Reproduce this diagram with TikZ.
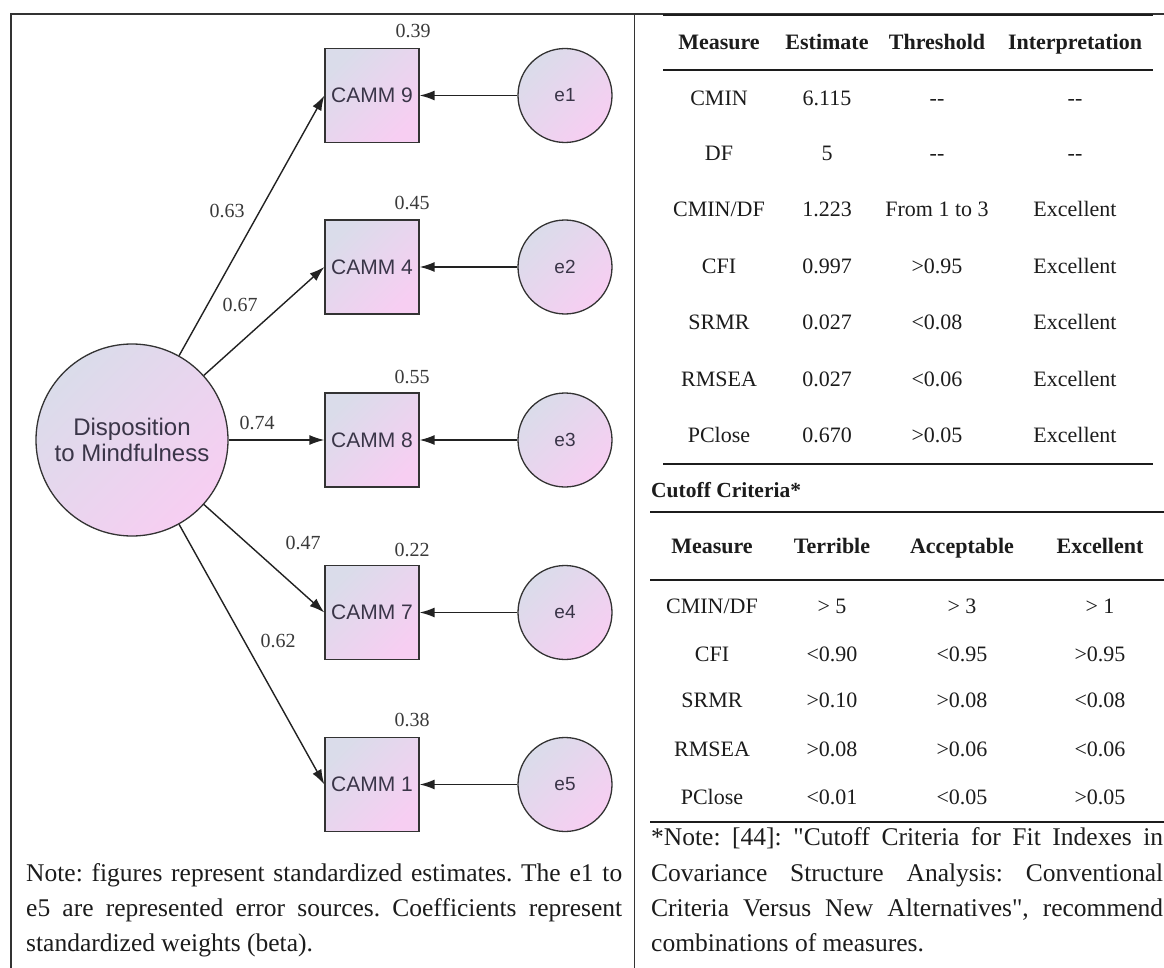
\documentclass[tikz,border=0pt]{standalone}
\usepackage{fontspec}
\setmainfont{Liberation Serif}
\newfontfamily\sansf{Liberation Sans}
\newfontfamily\qtf{Liberation Serif}[Ligatures=TeXOff]
\usetikzlibrary{arrows.meta}
\definecolor{cTL}{HTML}{DADCEA}
\definecolor{cBR}{HTML}{F7CEF2}
\definecolor{linec}{HTML}{333333}
\definecolor{arrc}{HTML}{222222}
\definecolor{txtd}{HTML}{3A3548}
\definecolor{numc}{HTML}{3A3A3A}
\definecolor{tabc}{HTML}{1C1C1C}
\newcommand{\sqq}{{\qtf\symbol{34}}}
\tikzset{
  sembox/.style={draw=linec, line width=1.3pt, top color=cTL, bottom color=cBR, shading angle=45,
    inner sep=0pt, text=txtd, font=\sansf\fontsize{21}{24}\selectfont},
  latentc/.style={sembox, circle, minimum size=192pt, align=center, font=\sansf\fontsize{24}{28}\selectfont},
  obsbox/.style={sembox, rectangle, minimum width=94pt, minimum height=94pt},
  errc/.style={sembox, circle, minimum size=94pt, font=\sansf\fontsize{19}{22}\selectfont},
  numlbl/.style={inner sep=0pt, text=numc, font=\fontsize{20}{22}\selectfont},
  pth/.style={draw=arrc, line width=1.4pt, -{Latex[length=15pt,width=10pt]}},
  tabt/.style={inner sep=0pt, text=tabc, text height=15.5pt, text depth=4.5pt, font=\fontsize{22}{26}\selectfont},
  tabh/.style={tabt, font=\bfseries\fontsize{22}{26}\selectfont},
  notet/.style={inner sep=0pt, text=tabc, anchor=base west, font=\frenchspacing\fontsize{25.5}{28}\selectfont},
  frame/.style={draw=linec, line width=1.4pt},
  rulethick/.style={draw=tabc, line width=2.8pt},
  rulemed/.style={draw=tabc, line width=1.8pt},
}
\begin{document}
\begin{tikzpicture}[x=1pt, y=-1pt]
\useasboundingbox[fill=white] (0,0) rectangle (1164,968);
% frame
\coordinate (fTL) at (11,14);
\coordinate (fBL) at (11,968);
\coordinate (fTR) at (1164,14);
\coordinate (dT) at (634.5,14);
\coordinate (dB) at (634.5,968);
\draw[frame] (fBL) -- (fTL) -- (fTR);
\draw[frame] (dT) -- (dB);

% diagram
\node[latentc] (D) at (132,440) {Disposition\\[-2pt]to Mindfulness};
\node[obsbox] (C9) at (372,95.5) {CAMM 9};
\node[obsbox] (C4) at (372,267) {CAMM 4};
\node[obsbox] (C8) at (372,440) {CAMM 8};
\node[obsbox] (C7) at (372,612.5) {CAMM 7};
\node[obsbox] (C1) at (372,784.5) {CAMM 1};
\node[errc] (e1) at (565,95.5) {e1};
\node[errc] (e2) at (565,267) {e2};
\node[errc] (e3) at (565,440) {e3};
\node[errc] (e4) at (565,612.5) {e4};
\node[errc] (e5) at (565,784.5) {e5};

\draw[pth] (D) -- (C9.west);
\draw[pth] (D) -- (C4.west);
\draw[pth] (D.east) -- (C8.west);
\draw[pth] (D) -- (C7.west);
\draw[pth] (D) -- (C1.west);
\draw[pth] (e1) -- (C9.east);
\draw[pth] (e2) -- (C4.east);
\draw[pth] (e3) -- (C8.east);
\draw[pth] (e4) -- (C7.east);
\draw[pth] (e5) -- (C1.east);

\node[numlbl] (r9) at (413,31) {0.39};
\node[numlbl] (r4) at (412,203) {0.45};
\node[numlbl] (r8) at (412,377) {0.55};
\node[numlbl] (r7) at (412,550) {0.22};
\node[numlbl] (r1) at (412,720) {0.38};
\node[numlbl] (w9) at (227,211) {0.63};
\node[numlbl] (w4) at (240,305) {0.67};
\node[numlbl] (w8) at (257,423) {0.74};
\node[numlbl] (w7) at (303,543) {0.47};
\node[numlbl] (w1) at (278,641) {0.62};

% left note
\node[notet] (nl1) at (26,881) {\makebox[596pt][s]{Note: figures represent standardized estimates. The e1 to}};
\node[notet] (nl2) at (26,916) {\makebox[596pt][s]{e5 are represented error sources. Coefficients represent}};
\node[notet] (nl3) at (26,951) {standardized weights (beta).};

% table 1
\coordinate (t1a) at (663,15);  \coordinate (t1b) at (1153,15);
\coordinate (t1c) at (663,70);  \coordinate (t1d) at (1153,70);
\coordinate (t1e) at (663,464); \coordinate (t1f) at (1153,464);
\draw[rulethick] (t1a) -- (t1b);
\draw[rulemed] (t1c) -- (t1d);
\draw[rulemed] (t1e) -- (t1f);
\node[tabh] (h11) at (719,44) {Measure};
\node[tabh] (h12) at (827,44) {Estimate};
\node[tabh] (h13) at (937,44) {Threshold};
\node[tabh] (h14) at (1075,44) {Interpretation};
\node[tabt] (a1) at (719,100) {CMIN};
\node[tabt] (b1) at (827,100) {6.115};
\node[tabt] (c1) at (937,100) {-{}-};
\node[tabt] (d1) at (1075,100) {-{}-};
\node[tabt] (a2) at (719,155) {DF};
\node[tabt] (b2) at (827,155) {5};
\node[tabt] (c2) at (937,155) {-{}-};
\node[tabt] (d2) at (1075,155) {-{}-};
\node[tabt] (a3) at (719,211) {CMIN/DF};
\node[tabt] (b3) at (827,211) {1.223};
\node[tabt] (c3) at (937,211) {From 1 to 3};
\node[tabt] (d3) at (1075,211) {Excellent};
\node[tabt] (a4) at (719,268) {CFI};
\node[tabt] (b4) at (827,268) {0.997};
\node[tabt] (c4) at (937,268) {>0.95};
\node[tabt] (d4) at (1075,268) {Excellent};
\node[tabt] (a5) at (719,324) {SRMR};
\node[tabt] (b5) at (827,324) {0.027};
\node[tabt] (c5) at (937,324) {<0.08};
\node[tabt] (d5) at (1075,324) {Excellent};
\node[tabt] (a6) at (719,381) {RMSEA};
\node[tabt] (b6) at (827,381) {0.027};
\node[tabt] (c6) at (937,381) {<0.06};
\node[tabt] (d6) at (1075,381) {Excellent};
\node[tabt] (a7) at (719,437) {PClose};
\node[tabt] (b7) at (827,437) {0.670};
\node[tabt] (c7) at (937,437) {>0.05};
\node[tabt] (d7) at (1075,437) {Excellent};

\node[inner sep=0pt, text=tabc, anchor=west, font=\bfseries\fontsize{21.5}{24}\selectfont] (cut) at (651,490) {Cutoff Criteria*};

% table 2
\coordinate (t2a) at (650,512); \coordinate (t2b) at (1164,512);
\coordinate (t2c) at (650,580); \coordinate (t2d) at (1164,580);
\coordinate (t2e) at (650,822); \coordinate (t2f) at (1164,822);
\draw[rulemed] (t2a) -- (t2b);
\draw[rulemed] (t2c) -- (t2d);
\draw[rulemed] (t2e) -- (t2f);
\node[tabh] (h21) at (712,548) {Measure};
\node[tabh] (h22) at (832,548) {Terrible};
\node[tabh] (h23) at (962,548) {Acceptable};
\node[tabh] (h24) at (1100,548) {Excellent};
\node[tabt] (p1) at (712,608) {CMIN/DF};
\node[tabt] (q1) at (832,608) {> 5};
\node[tabt] (s1) at (962,608) {> 3};
\node[tabt] (u1) at (1100,608) {> 1};
\node[tabt] (p2) at (712,656) {CFI};
\node[tabt] (q2) at (832,656) {<0.90};
\node[tabt] (s2) at (962,656) {<0.95};
\node[tabt] (u2) at (1100,656) {>0.95};
\node[tabt] (p3) at (712,702) {SRMR};
\node[tabt] (q3) at (832,702) {>0.10};
\node[tabt] (s3) at (962,702) {>0.08};
\node[tabt] (u3) at (1100,702) {<0.08};
\node[tabt] (p4) at (712,751) {RMSEA};
\node[tabt] (q4) at (832,751) {>0.08};
\node[tabt] (s4) at (962,751) {>0.06};
\node[tabt] (u4) at (1100,751) {<0.06};
\node[tabt] (p5) at (712,799) {PClose};
\node[tabt] (q5) at (832,799) {<0.01};
\node[tabt] (s5) at (962,799) {<0.05};
\node[tabt] (u5) at (1100,799) {>0.05};

% right note
\node[notet] (nr1) at (651,845) {\makebox[512pt][s]{*Note: [44]: \sqq Cutoff Criteria for Fit Indexes in}};
\node[notet] (nr2) at (651,881) {\makebox[512pt][s]{Covariance Structure Analysis: Conventional}};
\node[notet] (nr3) at (651,916) {\makebox[512pt][s]{Criteria Versus New Alternatives\sqq, recommend}};
\node[notet] (nr4) at (651,951) {combinations of measures.};
\end{tikzpicture}
\end{document}
